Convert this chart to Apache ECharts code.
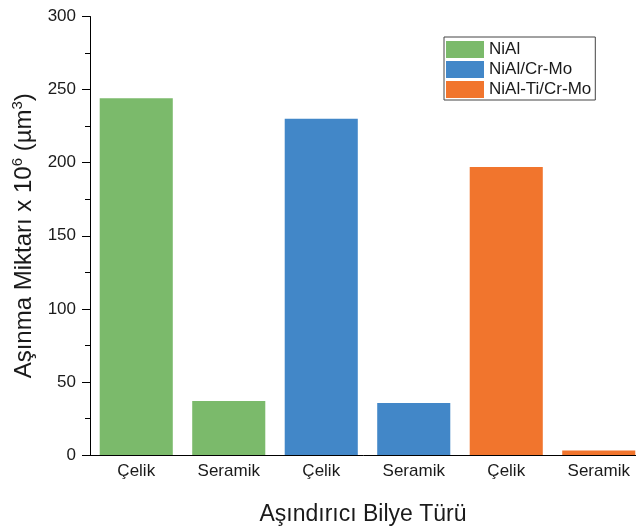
<!DOCTYPE html>
<html>
<head>
<meta charset="utf-8">
<script src="https://cdn.jsdelivr.net/npm/echarts@6/dist/echarts.min.js"></script>
<style>
  html, body { margin: 0; padding: 0; background: #fff; }
  #chart { width: 636px; height: 527px; }
</style>
</head>
<body>
<div id="chart"></div>
<script>
// Wear volume by counter-ball type for each coating
const categories = ['Çelik', 'Seramik', 'Çelik', 'Seramik', 'Çelik', 'Seramik'];
const seriesNames = ['NiAl', 'NiAl/Cr-Mo', 'NiAl-Ti/Cr-Mo'];
const nialValues = [244, 37, '-', '-', '-', '-'];
const nialCrMoValues = ['-', '-', 230, 35.5, '-', '-'];
const nialTiCrMoValues = ['-', '-', '-', '-', 197, 3];
const yTicks = { min: 0, max: 300, interval: 50 };

const colors = ['#7bba6b', '#4287c8', '#f1752d'];
const FONT = '"Liberation Sans", Arial, sans-serif';
const TEXT = '#1a1a1a';

const chart = echarts.init(document.getElementById('chart'), null, { renderer: 'canvas' });

const seriesData = [nialValues, nialCrMoValues, nialTiCrMoValues];

chart.setOption({
  animation: false,
  backgroundColor: '#ffffff',
  color: colors,
  textStyle: { fontFamily: FONT },
  grid: {
    left: 90, top: 16.5, right: -9, bottom: 72,
    containLabel: false,
    outerBoundsMode: 'none'
  },
  legend: {
    orient: 'vertical',
    left: 444,
    top: 37,
    data: seriesNames,
    icon: 'rect',
    itemWidth: 38,
    itemHeight: 17,
    itemGap: 3,
    padding: [4, 4, 2, 2],
    borderColor: '#444',
    borderWidth: 1,
    textStyle: { fontFamily: FONT, fontSize: 17, lineHeight: 17, color: TEXT }
  },
  xAxis: {
    type: 'category',
    data: categories,
    name: 'Aşındırıcı Bilye Türü',
    nameLocation: 'middle',
    nameGap: 48,
    nameTextStyle: { fontFamily: FONT, fontSize: 23, color: TEXT, padding: [0, 9, 0, 0] },
    axisLine: { show: true, lineStyle: { color: '#000', width: 1 } },
    axisTick: { show: false },
    axisLabel: { fontFamily: FONT, fontSize: 17, color: TEXT, margin: 8 }
  },
  yAxis: {
    type: 'value',
    min: yTicks.min,
    max: yTicks.max,
    interval: yTicks.interval,
    name: '{t|Aşınma Miktarı x 10}{s|6}{t| (µm}{s|3}{t|)}',
    nameLocation: 'middle',
    nameRotate: 90,
    nameGap: 52,
    nameTextStyle: {
      fontFamily: FONT,
      color: TEXT,
      rich: {
        t: { fontFamily: FONT, fontSize: 24, color: TEXT, verticalAlign: 'bottom', lineHeight: 28 },
        s: { fontFamily: FONT, fontSize: 15, color: TEXT, verticalAlign: 'bottom', lineHeight: 28, padding: [0, 0, 11, 0] }
      }
    },
    axisLine: { show: true, lineStyle: { color: '#000', width: 1 } },
    axisTick: { show: true, inside: false, length: 8, lineStyle: { color: '#000' } },
    minorTick: { show: true, splitNumber: 2, length: 5, lineStyle: { color: '#000' } },
    splitLine: { show: false },
    axisLabel: { fontFamily: FONT, fontSize: 17, color: TEXT, margin: 14 }
  },
  series: seriesNames.map((name, i) => ({
    name: name,
    type: 'bar',
    stack: 'all',
    barCategoryGap: '21%',
    data: seriesData[i],
    itemStyle: { color: colors[i] }
  }))
});
</script>
</body>
</html>
